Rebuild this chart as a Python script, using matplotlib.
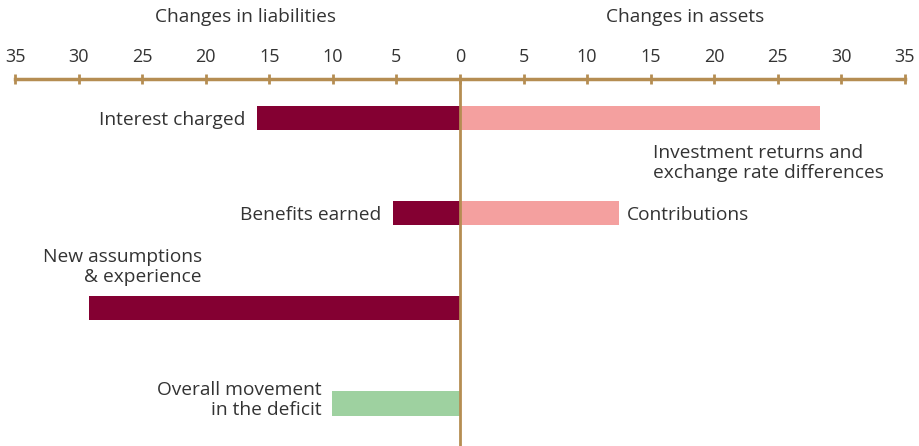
import numpy as np
import matplotlib.pyplot as plt
import matplotlib.transforms as mtransforms

##### Data
liab_labels = ['Interest charged', 'Benefits earned', 'New assumptions\n& experience', 'Overall movement\nin the deficit']
liab_values = [16.0, 5.3, 29.2, 10.1]
asset_labels = ['Investment returns and\nexchange rate differences', 'Contributions', '', '']
asset_values = [28.3, 12.5, 0, 0]
tick_vals = [-35, -30, -25, -20, -15, -10, -5, 0, 5, 10, 15, 20, 25, 30, 35]

##### Colours
DARK = '#840032'
PINK = '#F4A09F'
GREEN = '#9ED1A0'
TAN = '#B58D52'
TXT = '#333333'

plt.rcParams['font.family'] = ['Open Sans', 'DejaVu Sans']

fig = plt.figure(figsize=(9.19, 4.46), dpi=100)
ax = fig.add_axes([15 / 919, 0, 890 / 919, 367 / 446])

y = np.arange(len(liab_values))
liab_colors = [DARK, DARK, DARK, GREEN]
ax.barh(y, [-v for v in liab_values], height=0.26, color=liab_colors)
ax.barh(y, asset_values, height=0.26, color=PINK)

ax.set_xlim(-35, 35)
ax.set_ylim(3.45, -0.41)
ax.axvline(0, color=TAN, lw=2, zorder=3)

##### Axis styling
for s in ['left', 'right', 'bottom']:
    ax.spines[s].set_visible(False)
ax.spines['top'].set_color(TAN)
ax.spines['top'].set_linewidth(2.5)
ax.xaxis.tick_top()
ax.set_xticks(tick_vals)
ax.set_xticklabels([str(abs(t)) for t in tick_vals], fontsize=13, color=TXT)
ax.tick_params(axis='x', direction='inout', length=7, width=2, color=TAN, pad=6)
ax.set_yticks([])

##### Bar labels
fs = 13.8
ax.text(-16.9, 0.02, liab_labels[0], ha='right', va='center', fontsize=fs, color=TXT)
ax.text(-6.2, 1.02, liab_labels[1], ha='right', va='center', fontsize=fs, color=TXT)
ax.text(-20.3, 1.57, liab_labels[2], ha='right', va='center', fontsize=fs, color=TXT,
        linespacing=1.15)
ax.text(-10.9, 2.97, liab_labels[3], ha='right', va='center', fontsize=fs, color=TXT,
        linespacing=1.15)
ax.text(15.2, 0.47, asset_labels[0], ha='left', va='center', fontsize=fs, color=TXT,
        linespacing=1.15)
ax.text(13.1, 1.02, asset_labels[1], ha='left', va='center', fontsize=fs, color=TXT)

##### Headers
trans = mtransforms.blended_transform_factory(ax.transData, fig.transFigure)
ax.text(-16.9, 1 - 17 / 446, 'Changes in liabilities', transform=trans,
        ha='center', va='center', fontsize=fs, color=TXT)
ax.text(17.7, 1 - 17 / 446, 'Changes in assets', transform=trans,
        ha='center', va='center', fontsize=fs, color=TXT)

plt.savefig('out.png', dpi=100)
